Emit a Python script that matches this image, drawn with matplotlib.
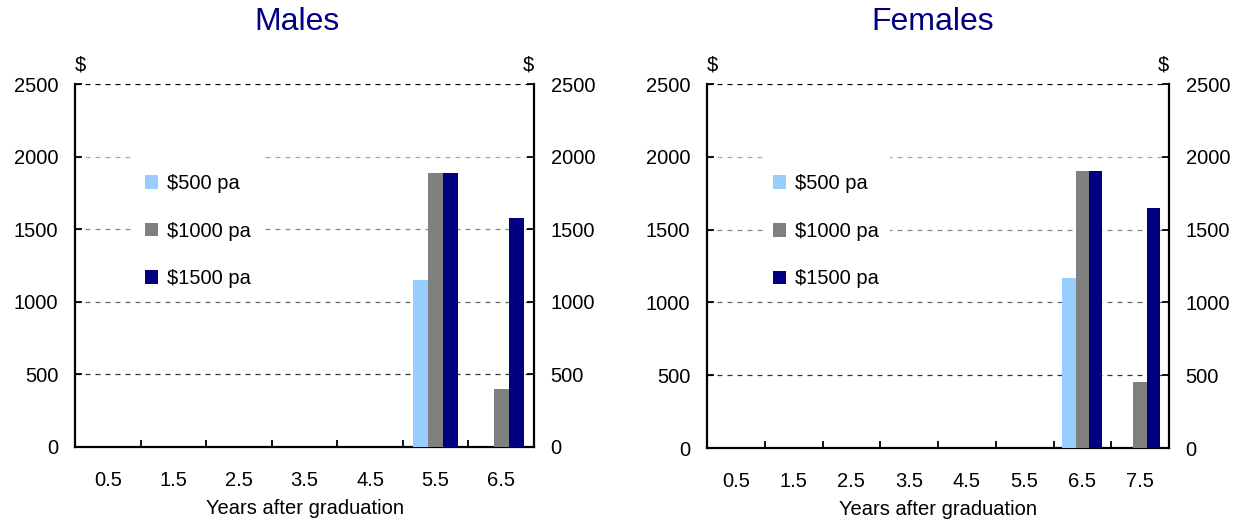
import matplotlib
matplotlib.use("Agg")
import matplotlib.pyplot as plt
from matplotlib.patches import Rectangle
import numpy as np

plt.rcParams['font.family'] = ['Liberation Sans', 'DejaVu Sans']

series_names = ["$500 pa", "$1000 pa", "$1500 pa"]
colors = ["#99ccff", "#808080", "#000080"]

males_cats = ["0.5", "1.5", "2.5", "3.5", "4.5", "5.5", "6.5"]
males_500 = [0, 0, 0, 0, 0, 1150, 0]
males_1000 = [0, 0, 0, 0, 0, 1890, 400]
males_1500 = [0, 0, 0, 0, 0, 1890, 1575]

females_cats = ["0.5", "1.5", "2.5", "3.5", "4.5", "5.5", "6.5", "7.5"]
females_500 = [0, 0, 0, 0, 0, 0, 1170, 0]
females_1000 = [0, 0, 0, 0, 0, 0, 1905, 455]
females_1500 = [0, 0, 0, 0, 0, 0, 1905, 1645]

yticks = [0, 500, 1000, 1500, 2000, 2500]

fig = plt.figure(figsize=(12.45, 5.25), dpi=100)

W, H = 1245, 525
def rect(x0, x1, ytop, ybot):
    return [x0 / W, 1 - ybot / H, (x1 - x0) / W, (ybot - ytop) / H]

panels = [
    ("Males", males_cats, [males_500, males_1000, males_1500], rect(75, 534, 84, 447), (297, 22),
     0.1525, (0.124, 0.412)),
    ("Females", females_cats, [females_500, females_1000, females_1500], rect(707, 1169, 84, 448), (933, 22),
     0.143, (0.123, 0.396)),
]

grid_colors = {500: "#333333", 1000: "#666666", 1500: "#888888", 2000: "#aaaaaa", 2500: "#000000"}
FS = 14.5

for title, cats, vals, r, tpos, legx, box in panels:
    ax = fig.add_axes(r)
    n = len(cats)
    x = np.arange(n)
    bw = 0.23
    for i, (v, c, nm) in enumerate(zip(vals, colors, series_names)):
        v = np.array(v, dtype=float)
        ax.bar(x + (i - 1) * bw, np.where(v > 0, v, np.nan), width=bw, color=c, label=nm,
               zorder=3, linewidth=0)
    ax.set_xlim(-0.5, n - 0.5)
    ax.set_ylim(0, 2500)
    for yv, gc in grid_colors.items():
        ax.axhline(yv, color=gc, linestyle=(0, (4, 4)), linewidth=0.9, zorder=1)
    # white legend background box
    ax.add_patch(Rectangle((box[0], 0.43), box[1] - box[0], 0.39, transform=ax.transAxes,
                           facecolor='white', edgecolor='none', zorder=2))
    ax.set_xticks(x)
    ax.set_xticklabels(cats, fontsize=FS)
    ax.set_xticks(np.arange(n - 1) + 0.5, minor=True)
    ax.tick_params(axis='x', which='major', length=0, pad=17)
    ax.tick_params(axis='x', which='minor', length=5, direction='in', width=1.3)
    ax.set_yticks(yticks)
    ax.set_yticklabels([str(v) for v in yticks], fontsize=FS)
    ax.tick_params(axis='y', direction='in', length=5, width=1.3, pad=12,
                   left=True, right=True, labelleft=True, labelright=True)
    ax.spines["top"].set_visible(False)
    for s in ["left", "right", "bottom"]:
        ax.spines[s].set_linewidth(1.6)
    ax.set_xlabel("Years after graduation", fontsize=FS, labelpad=7)
    ax.text(0.0, 1.025, "$", transform=ax.transAxes, fontsize=FS, ha='left', va='bottom')
    ax.text(1.0, 1.025, "$", transform=ax.transAxes, fontsize=FS, ha='right', va='bottom')
    leg = ax.legend(loc='upper left', bbox_to_anchor=(legx, 0.752), frameon=False, fontsize=FS,
                    handlelength=0.65, handleheight=0.65, labelspacing=1.42, handletextpad=0.45,
                    borderpad=0, borderaxespad=0)
    leg.set_zorder(5)
    fig.text(tpos[0] / W, 1 - tpos[1] / H, title, fontsize=23, color="#000080", ha='center', va='center')

fig.savefig("out.png", dpi=100)
